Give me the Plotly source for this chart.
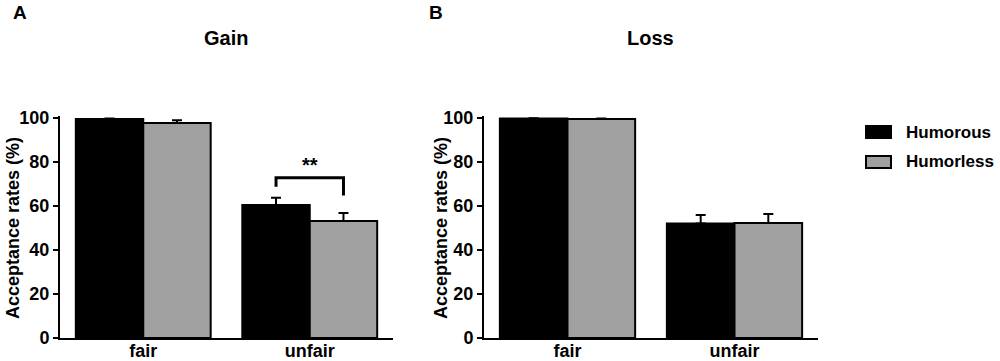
import plotly.graph_objects as go

# ---- data ----
categories = ["fair", "unfair"]
series_names = ["Humorous", "Humorless"]
series_colors = ["#000000", "#A0A0A0"]
gain_humorous = [99.5, 60.5]
gain_humorous_err = [0.3, 3.3]
gain_humorless = [97.7, 53.2]
gain_humorless_err = [1.3, 3.6]
loss_humorous = [99.8, 52.1]
loss_humorous_err = [0.1, 3.8]
loss_humorless = [99.6, 52.3]
loss_humorless_err = [0.2, 4.1]
panel_titles = ["Gain", "Loss"]
panel_letters = ["A", "B"]
y_title = "Acceptance rates (%)"
y_ticks = [0, 20, 40, 60, 80, 100]
sig_label = "**"

W, H = 1000, 361
FONT = "Arial, Liberation Sans, sans-serif"
BARGAP = 0.19

def px(x):
    return x / W

def py(y):
    return 1 - y / H

fig = go.Figure()

x_pos = list(range(len(categories)))
panels = [
    ((gain_humorous, gain_humorous_err), (gain_humorless, gain_humorless_err)),
    ((loss_humorous, loss_humorous_err), (loss_humorless, loss_humorless_err)),
]
axes = [("x", "y"), ("x2", "y2")]
for (xa, ya), series in zip(axes, panels):
    for name, color, (vals, errs) in zip(series_names, series_colors, series):
        fig.add_trace(go.Bar(
            x=x_pos, y=vals, name=name, xaxis=xa, yaxis=ya,
            marker=dict(color=color, line=dict(color="black", width=2)),
            error_y=dict(type="data", array=errs, arrayminus=[0] * len(errs),
                         symmetric=False, color="black", thickness=2, width=5),
            showlegend=False,
        ))

# significance bracket on Gain / unfair
half = (1 - BARGAP) / 4
cat = 1
top_left = gain_humorous[cat] + gain_humorous_err[cat]
top_right = gain_humorless[cat] + gain_humorless_err[cat]
bracket_y = max(top_left, top_right) + 9
fig.add_trace(go.Scatter(
    x=[cat - half, cat - half, cat + half, cat + half],
    y=[top_left + 5, bracket_y, bracket_y, top_right + 8],
    mode="lines", line=dict(color="black", width=3),
    xaxis="x", yaxis="y", showlegend=False, hoverinfo="skip",
))
fig.add_annotation(x=cat, y=bracket_y, xref="x", yref="y", text=sig_label,
                   showarrow=False, yanchor="bottom", yshift=0,
                   font=dict(family=FONT, size=20, color="black", weight="bold"))

y_top = 101
y0_px, y100_px = 338, 118
ytop_px = y0_px - (y0_px - y100_px) * y_top / 100
ydom = [py(y0_px), py(ytop_px)]

axis_common = dict(
    showgrid=False, zeroline=False, showline=True, linecolor="black", linewidth=2,
    automargin=False,
    tickfont=dict(family=FONT, size=18, color="black", weight="bold"),
)
fig.update_layout(
    width=W, height=H, margin=dict(l=0, r=0, t=0, b=0, autoexpand=False),
    paper_bgcolor="white", plot_bgcolor="white",
    barmode="group", bargap=BARGAP, bargroupgap=0,
    xaxis=dict(domain=[px(60), px(393)], range=[-0.5, 1.5], tickvals=x_pos,
               ticktext=categories, ticks="", ticklabelstandoff=-5, **axis_common),
    xaxis2=dict(domain=[px(484), px(818)], range=[-0.5, 1.5], tickvals=x_pos,
                ticktext=categories, ticks="", ticklabelstandoff=-5, **axis_common),
    yaxis=dict(domain=ydom, range=[0, y_top], tickvals=y_ticks, ticks="outside",
               ticklen=5, tickwidth=2, tickcolor="black", anchor="x", **axis_common),
    yaxis2=dict(domain=ydom, range=[0, y_top], tickvals=y_ticks, ticks="outside",
                ticklen=5, tickwidth=2, tickcolor="black", anchor="x2", **axis_common),
)

# titles, letters, y titles
for title, cx in zip(panel_titles, [226, 650]):
    fig.add_annotation(x=px(cx), y=py(38), xref="paper", yref="paper", text=title,
                       showarrow=False, xanchor="center", yanchor="middle",
                       font=dict(family=FONT, size=20, color="black", weight="bold"))
for letter, lx in zip(panel_letters, [11, 427]):
    fig.add_annotation(x=px(lx), y=py(13), xref="paper", yref="paper", text=letter,
                       showarrow=False, xanchor="left", yanchor="middle",
                       font=dict(family=FONT, size=19, color="black", weight="bold"))
for tx in [13, 441]:
    fig.add_annotation(x=px(tx), y=py(228), xref="paper", yref="paper", text=y_title,
                       showarrow=False, textangle=-90, xanchor="center", yanchor="middle",
                       font=dict(family=FONT, size=18, color="black", weight="bold"))

# legend drawn manually
for i, (name, color) in enumerate(zip(series_names, series_colors)):
    yc = 132 + i * 30
    fig.add_shape(type="rect", xref="paper", yref="paper",
                  x0=px(866), x1=px(891), y0=py(yc - 6), y1=py(yc + 6),
                  fillcolor=color, line=dict(color="black", width=2))
    fig.add_annotation(x=px(904), y=py(yc), xref="paper", yref="paper", text=name,
                       showarrow=False, xanchor="left", yanchor="middle",
                       font=dict(family=FONT, size=17, color="black", weight="bold"))

fig.write_html("out.html", config={"displayModeBar": False},
               post_script="document.body.style.margin='0';")
